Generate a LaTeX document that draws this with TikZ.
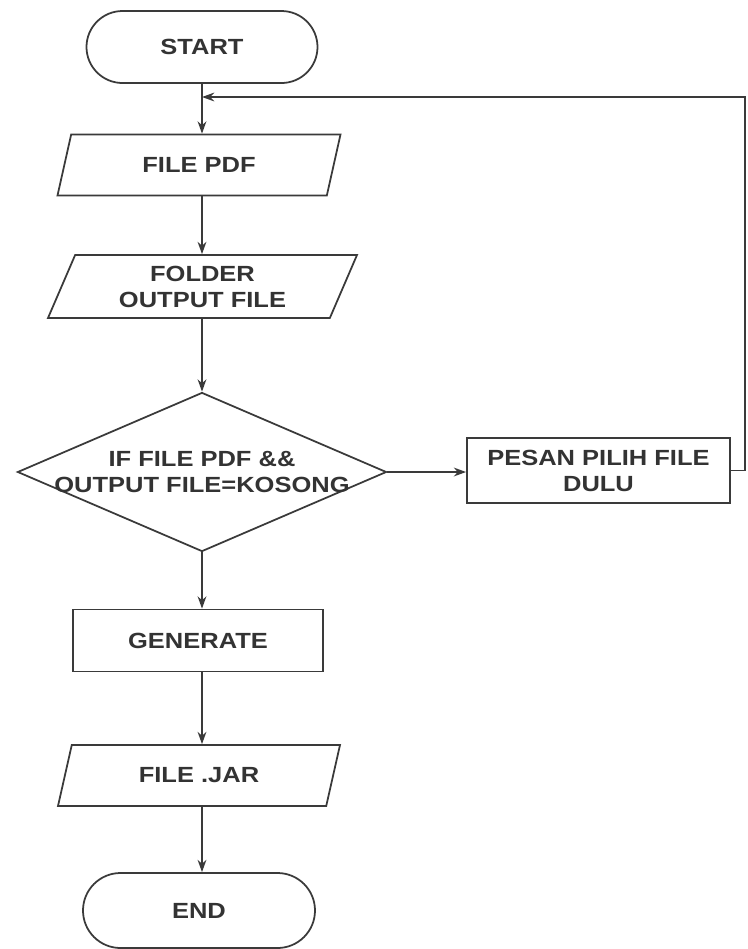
\documentclass[tikz,border=0pt]{standalone}
\usepackage{fontspec}
\setmainfont{Liberation Sans}[FakeStretch=1.16]
\usepackage{tikz}
\usetikzlibrary{shapes.geometric,arrows.meta}
\definecolor{garis}{HTML}{3A3A3A}
\definecolor{teks}{HTML}{333333}

\begin{document}
\begin{tikzpicture}[
    every node/.style={font=\fontsize{12.5}{14.8}\selectfont\bfseries,text=teks,align=center},
    terminal/.style={draw=garis,line width=1pt,rounded corners=0.72cm,minimum width=4.62cm,minimum height=1.44cm},
    masukan/.style={draw=garis,line width=1pt,trapezium,trapezium left angle=63,trapezium right angle=117,trapezium stretches body,inner xsep=0pt,minimum height=1.22cm},
    proses/.style={draw=garis,line width=1pt,minimum height=1.24cm},
    keputusan/.style={draw=garis,line width=1pt,diamond,aspect=2.32,inner xsep=-0.45cm,inner ysep=0pt,minimum width=7.38cm,minimum height=3.18cm},
    panah/.style={draw=garis,line width=1pt,-{Stealth[length=7pt,width=5pt]}}]
    \useasboundingbox (0,0) rectangle (14.94,-18.98);
    \node[terminal] (start) at (4.04,-0.94) {START};
    \coordinate (gabung) at (4.04,-1.94);
    \node[masukan,minimum width=5.66cm] (pdf) at (3.98,-3.3) {FILE PDF};
    \node[masukan,minimum width=6.18cm,minimum height=1.26cm] (folder) at (4.05,-5.73) {FOLDER\\OUTPUT FILE};
    \node[keputusan] (cek) at (4.04,-9.44) {IF FILE PDF \&\&\\OUTPUT FILE=KOSONG};
    \node[proses,minimum width=5.26cm,minimum height=1.3cm] (pesan) at (11.97,-9.41) {PESAN PILIH FILE\\DULU};
    \coordinate (balik) at (14.9,-1.94);
    \node[proses,minimum width=5.0cm] (generate) at (3.96,-12.81) {GENERATE};
    \node[masukan,minimum width=5.64cm] (jar) at (3.98,-15.51) {FILE .JAR};
    \node[terminal,minimum width=4.64cm,minimum height=1.5cm,rounded corners=0.75cm] (end) at (3.98,-18.21) {END};
    \draw[draw=garis,line width=1pt] (start.south) -- (gabung);
    \draw[panah] (gabung) -- (gabung |- pdf.north);
    \draw[panah] (pdf.south -| gabung) -- (gabung |- folder.north);
    \draw[panah] (folder.south -| gabung) -- (cek.north);
    \draw[panah] (cek.east) -- (pesan.west |- cek.east);
    \draw[panah] (pesan.east) -| (balik) -- (gabung);
    \draw[panah] (cek.south) -- (cek.south |- generate.north);
    \draw[panah] (generate.south -| cek.south) -- (cek.south |- jar.north);
    \draw[panah] (jar.south -| cek.south) -- (cek.south |- end.north);
  \end{tikzpicture}
\end{document}
